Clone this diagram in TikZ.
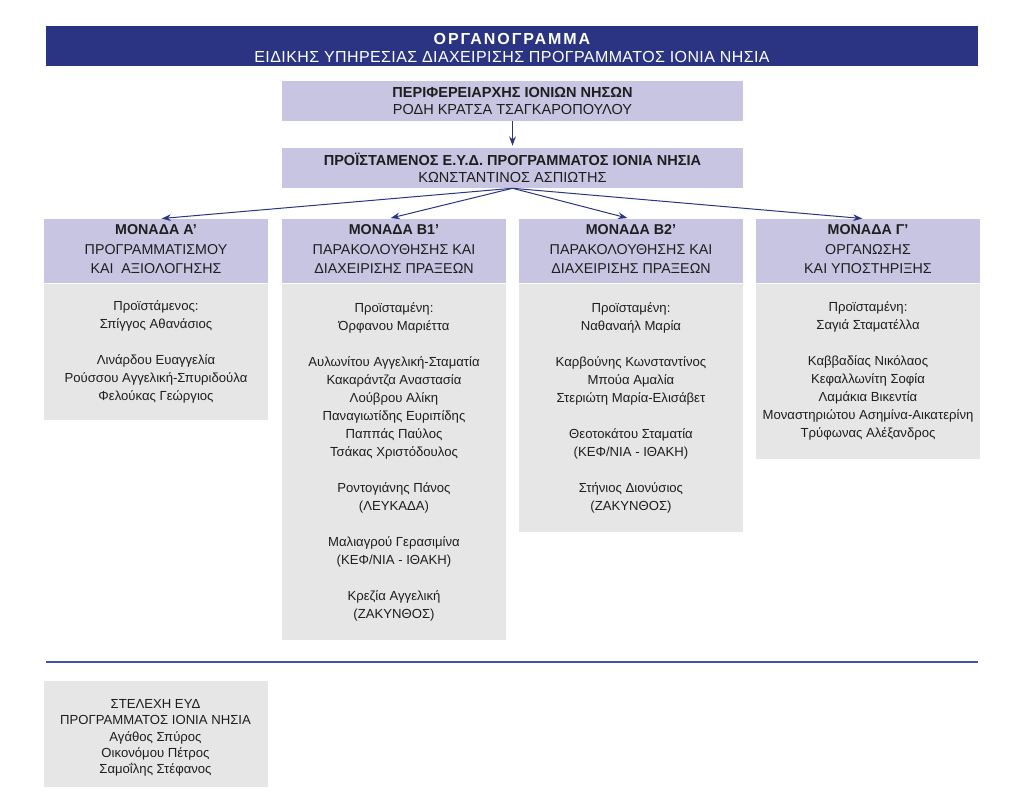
\documentclass[tikz,border=0pt]{standalone}
\usepackage{fontspec}
\setmainfont{Liberation Sans}
\usetikzlibrary{positioning,arrows.meta}

\definecolor{navy}{RGB}{42,52,130}
\definecolor{lavender}{RGB}{200,197,227}
\definecolor{boxgray}{RGB}{230,230,230}
\definecolor{inkgray}{RGB}{30,30,30}
\definecolor{rule}{RGB}{70,82,165}

\tikzset{
	topbox/.style={fill=lavender, minimum width=345.75pt, minimum height=30pt, inner sep=0pt, align=center, text=inkgray, font=\fontsize{10.9}{13.2}\selectfont},
	unithead/.style={fill=lavender, minimum width=168pt, minimum height=48pt, inner sep=0pt, align=center, text=inkgray, font=\fontsize{10.7}{14.5}\selectfont, execute at end node={\rule[-2.5pt]{0pt}{2.5pt}}},
	unitbody/.style={fill=boxgray, minimum width=168pt, inner sep=0pt, align=center, text=inkgray, font=\fontsize{9.85}{13.5}\selectfont},
	arr/.style={-{Stealth[length=7pt,width=5pt]}, navy, line width=0.75pt}
}

\begin{document}
\begin{tikzpicture}[x=0.75pt,y=-0.75pt]
\useasboundingbox (0,0) rectangle (1024,801);

% title bar
\node[fill=navy, minimum width=699pt, minimum height=30pt, inner sep=0pt, align=center, text=white, font=\fontsize{12}{13.5}\selectfont] (title) at (512,46)
	{\rule{0pt}{12pt}{\bfseries\addfontfeature{LetterSpace=12}ΟΡΓΑΝΟΓΡΑΜΜΑ}\\{\addfontfeature{LetterSpace=2.5}ΕΙΔΙΚΗΣ ΥΠΗΡΕΣΙΑΣ ΔΙΑΧΕΙΡΙΣΗΣ ΠΡΟΓΡΑΜΜΑΤΟΣ ΙΟΝΙΑ ΝΗΣΙΑ}};

\node[topbox] (peri) at (512.5,101) {\textbf{ΠΕΡΙΦΕΡΕΙΑΡΧΗΣ ΙΟΝΙΩΝ ΝΗΣΩΝ}\\ΡΟΔΗ ΚΡΑΤΣΑ ΤΣΑΓΚΑΡΟΠΟΥΛΟΥ};
\node[topbox] (pro) at (512.5,168) {\textbf{ΠΡΟΪΣΤΑΜΕΝΟΣ Ε.Υ.Δ. ΠΡΟΓΡΑΜΜΑΤΟΣ ΙΟΝΙΑ ΝΗΣΙΑ}\\ΚΩΝΣΤΑΝΤΙΝΟΣ ΑΣΠΙΩΤΗΣ};

% units
\node[unithead] (hA) at (156,251) {\textbf{ΜΟΝΑΔΑ Α’}\\ΠΡΟΓΡΑΜΜΑΤΙΣΜΟΥ\\ΚΑΙ\ \ ΑΞΙΟΛΟΓΗΣΗΣ};
\node[unithead] (hB1) at (394,251) {\textbf{ΜΟΝΑΔΑ Β1’}\\ΠΑΡΑΚΟΛΟΥΘΗΣΗΣ ΚΑΙ\\ΔΙΑΧΕΙΡΙΣΗΣ ΠΡΑΞΕΩΝ};
\node[unithead] (hB2) at (631,251) {\textbf{ΜΟΝΑΔΑ Β2’}\\ΠΑΡΑΚΟΛΟΥΘΗΣΗΣ ΚΑΙ\\ΔΙΑΧΕΙΡΙΣΗΣ ΠΡΑΞΕΩΝ};
\node[unithead] (hG) at (868,251) {\textbf{ΜΟΝΑΔΑ Γ’}\\ΟΡΓΑΝΩΣΗΣ\\ΚΑΙ ΥΠΟΣΤΗΡΙΞΗΣ};

\node[unitbody, minimum height=102pt, below=0pt of hA] (bA) {Προϊστάμενος:\\Σπίγγος Αθανάσιος\\[13.5pt]
	Λινάρδου Ευαγγελία\\Ρούσσου Αγγελική-Σπυριδούλα\\Φελούκας Γεώργιος};
\node[unitbody, minimum height=267pt, below=0pt of hB1] (bB1) {Προϊσταμένη:\\Όρφανου Μαριέττα\\[13.5pt]
	Αυλωνίτου Αγγελική-Σταματία\\Κακαράντζα Αναστασία\\Λούβρου Αλίκη\\Παναγιωτίδης Ευριπίδης\\Παππάς Παύλος\\Τσάκας Χριστόδουλος\\[13.5pt]
	Ροντογιάνης Πάνος\\(ΛΕΥΚΑΔΑ)\\[13.5pt]
	Μαλιαγρού Γερασιμίνα\\(ΚΕΦ/ΝΙΑ - ΙΘΑΚΗ)\\[13.5pt]
	Κρεζία Αγγελική\\(ΖΑΚΥΝΘΟΣ)};
\node[unitbody, minimum height=186pt, below=0pt of hB2] (bB2) {Προϊσταμένη:\\Ναθαναήλ Μαρία\\[13.5pt]
	Καρβούνης Κωνσταντίνος\\Μπούα Αμαλία\\Στεριώτη Μαρία-Ελισάβετ\\[13.5pt]
	Θεοτοκάτου Σταματία\\(ΚΕΦ/ΝΙΑ - ΙΘΑΚΗ)\\[13.5pt]
	Στήνιος Διονύσιος\\(ΖΑΚΥΝΘΟΣ)};
\node[unitbody, minimum height=131.25pt, below=0pt of hG] (bG) {Προϊσταμένη:\\Σαγιά Σταματέλλα\\[13.5pt]
	Καββαδίας Νικόλαος\\Κεφαλλωνίτη Σοφία\\Λαμάκια Βικεντία\\Μοναστηριώτου Ασημίνα-Αικατερίνη\\Τρύφωνας Αλέξανδρος};

% arrows
\draw[arr, shorten >=1.5pt] (peri) -- (pro);
\foreach \u/\dx in {A/2.25,B1/-4.5,B2/-0.75,G/-2.25}{
	\draw[arr, shorten >=2pt] (pro.south) -- ([xshift=\dx pt]h\u.north);
}

% staff
\draw[rule, line width=0.8pt] (46,662) -- (978,662);
\node[unitbody, minimum height=79.5pt, font=\fontsize{9.85}{12}\selectfont] (staff) at (155.5,734) {\rule{0pt}{13pt}ΣΤΕΛΕΧΗ ΕΥΔ\\ΠΡΟΓΡΑΜΜΑΤΟΣ ΙΟΝΙΑ ΝΗΣΙΑ\\[1pt]
	Αγάθος Σπύρος\\Οικονόμου Πέτρος\\Σαμοΐλης Στέφανος};

\end{tikzpicture}
\end{document}
